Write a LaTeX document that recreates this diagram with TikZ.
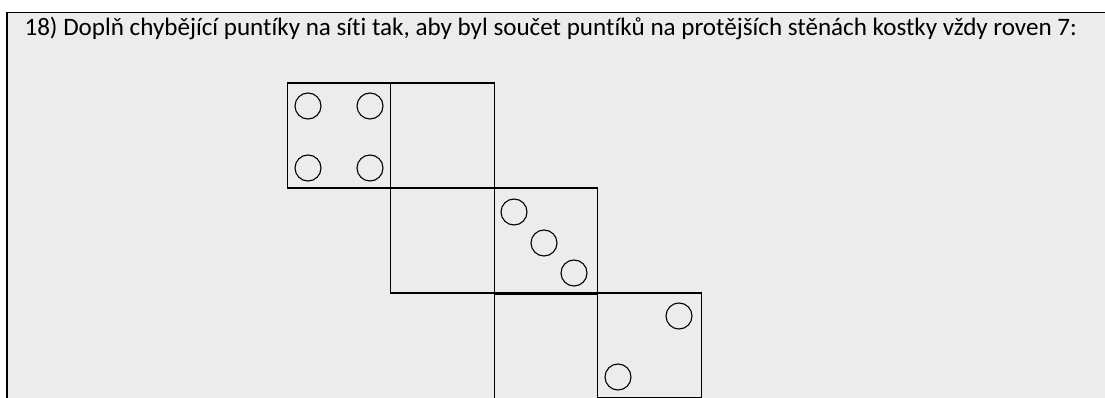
\documentclass[tikz,border=0pt]{standalone}
\usepackage{fontspec}
\setmainfont[Ligatures=NoCommon]{Carlito}
\usepackage{tikz}
\definecolor{paper}{gray}{0.925}
\tikzset{
  face/.style={draw, line width=1.1pt, minimum width=103.5pt, minimum height=105pt, inner sep=0pt},
  pip/.style={draw, circle, line width=1.1pt, minimum size=26pt, inner sep=0pt}
}

\begin{document}
\begin{tikzpicture}[x=1pt, y=-1pt]
    \useasboundingbox (0,0) rectangle (1105,398);
    \clip (0,0) rectangle (1105,398);
    \fill[paper] (7,12.5) rectangle (1105,398);
    \draw[line width=1.6pt] (7,400) -- (7,12.5) -- (1106,12.5);

    \node[anchor=base west, font=\fontsize{25.1}{29}\selectfont] (title) at (21,36) {18) Doplň chybějící puntíky na síti tak, aby byl součet puntíků na protějších stěnách kostky vždy roven 7:};

    % top row
    \node[face] (four) at (339,135.5) {};
    \node[face] (top) at (442.5,135.5) {};
    \node[pip] (four1) at (308,106) {};
    \node[pip] (four2) at (370,106) {};
    \node[pip] (four3) at (308,168) {};
    \node[pip] (four4) at (370,168) {};

    % middle row
    \node[face] (mid) at (442.5,240.5) {};
    \node[face] (three) at (546,240.5) {};
    \node[pip] (three1) at (514,212) {};
    \node[pip] (three2) at (544,243) {};
    \node[pip] (three3) at (574,273) {};

    % bottom row
    \node[face] (low) at (546,346.5) {};
    \node[face] (two) at (649.5,345.5) {};
    \node[pip] (two1) at (679,316) {};
    \node[pip] (two2) at (618,377) {};
\end{tikzpicture}
\end{document}
